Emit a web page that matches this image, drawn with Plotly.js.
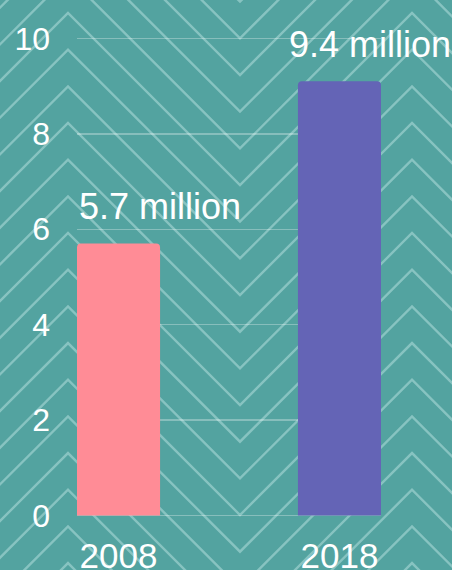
<!DOCTYPE html>
<html>
<head>
<meta charset="utf-8">
<script src="https://cdn.plot.ly/plotly-3.0.1.min.js"></script>
<style>
  html, body { margin: 0; padding: 0; background: #53a3a0; }
  #wrap { position: relative; width: 452px; height: 570px; overflow: hidden; background: #53a3a0; }
  #bg { position: absolute; left: 0; top: 0; }
  #chart { position: absolute; left: 0; top: 0; width: 452px; height: 570px; }
</style>
</head>
<body>
<div id="wrap">
  <svg id="bg" width="452" height="570" xmlns="http://www.w3.org/2000/svg"></svg>
  <div id="chart"></div>
</div>
<script>
// ---- data ----
const years = ["2008", "2018"];
const values = [5.7, 9.1];
const valueLabels = ["5.7 million", "9.4 million"];
const barColors = ["#ff8c96", "#6464b6"];
const yTicks = [0, 2, 4, 6, 8, 10];

// ---- decorative chevron background ----
(function drawBackground() {
  const svg = document.getElementById('bg');
  const ns = 'http://www.w3.org/2000/svg';
  const spacing = 36.67, amp = 172, peakX = 68, peakY = 13, period = 344;
  for (let k = -6; k <= 17; k++) {
    const base = peakY + k * spacing;
    const pts = [];
    for (let n = -1; n <= 2; n++) {
      const px = peakX + n * period;
      pts.push(px + ',' + base);
      pts.push((px + period / 2) + ',' + (base + amp));
    }
    const pl = document.createElementNS(ns, 'polyline');
    pl.setAttribute('points', pts.join(' '));
    pl.setAttribute('fill', 'none');
    pl.setAttribute('stroke', 'rgba(200,235,232,0.45)');
    pl.setAttribute('stroke-width', '2.4');
    svg.appendChild(pl);
  }
})();

const barWidth = 0.376;
const font = "Liberation Sans, Arial, sans-serif";

const trace = {
  type: 'bar',
  x: years,
  y: values,
  width: barWidth,
  marker: { color: barColors, cornerradius: 4, line: { width: 0 } },
  hoverinfo: 'none'
};

const annShift = [41.5, 30.5];
const annotations = years.map((yr, i) => ({
  x: i, y: values[i], xref: 'x', yref: 'y',
  text: valueLabels[i], showarrow: false,
  xanchor: 'center', yanchor: 'middle',
  xshift: annShift[i], yshift: 37,
  font: { family: font, size: 36, color: '#ffffff' }
}));

const layout = {
  width: 452, height: 570,
  margin: { l: 77, r: 71, t: 36, b: 52, pad: 0 },
  paper_bgcolor: 'rgba(0,0,0,0)',
  plot_bgcolor: 'rgba(0,0,0,0)',
  showlegend: false,
  xaxis: {
    type: 'category',
    range: [-barWidth / 2, 1 + barWidth / 2],
    showgrid: false, zeroline: false, showline: false,
    ticks: '', ticklabelstandoff: 14,
    tickfont: { family: font, size: 35, color: '#ffffff' },
    fixedrange: true
  },
  yaxis: {
    range: [-0.05, 10.05],
    tickvals: yTicks,
    ticktext: yTicks.map(String),
    showgrid: true, gridcolor: 'rgba(255,255,255,0.3)', gridwidth: 1.5,
    zeroline: false, showline: false,
    ticks: '', ticklabelstandoff: 26,
    tickfont: { family: font, size: 32, color: '#ffffff' },
    fixedrange: true
  },
  annotations: annotations
};

Plotly.newPlot('chart', [trace], layout, { displayModeBar: false, staticPlot: true });
</script>
</body>
</html>
